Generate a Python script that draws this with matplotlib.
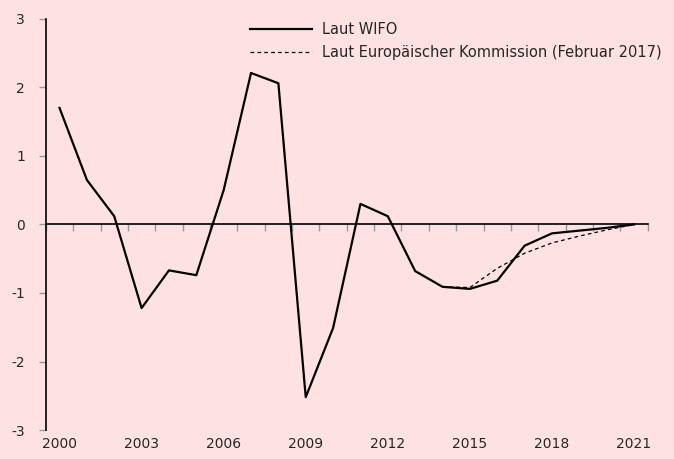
import matplotlib
matplotlib.use("Agg")
import matplotlib.pyplot as plt
import numpy as np

years = list(range(2000, 2022))
wifo = [1.70, 0.65, 0.12, -1.22, -0.67, -0.74, 0.50, 2.21, 2.06, -2.52, -1.51,
        0.30, 0.12, -0.68, -0.91, -0.94, -0.82, -0.31, -0.13, -0.09, -0.05, 0.0]
ek_years = list(range(2014, 2022))
ek = [-0.91, -0.92, -0.64, -0.42, -0.27, -0.17, -0.08, 0.0]
label_years = [2000, 2003, 2006, 2009, 2012, 2015, 2018, 2021]

bg = "#fee2e3"
txt = "#262626"
plt.rcParams['font.family'] = ['DejaVu Sans']
plt.rcParams['axes.unicode_minus'] = False

fig = plt.figure(figsize=(6.74, 4.59), dpi=100, facecolor=bg)
ax = fig.add_axes([0.068, 0.063, 0.893, 0.896], facecolor=bg)

x = np.arange(len(years))
x_ek = [years.index(y) for y in ek_years]
ax.plot(x, wifo, color="black", linewidth=1.6, label="Laut WIFO")
ax.plot(x_ek, ek, color="black", linewidth=0.9, dashes=(3.0, 2.5),
        label="Laut Europäischer Kommission (Februar 2017)")

ax.set_xlim(-0.5, len(years) - 0.5)
ax.set_ylim(-3, 3)
ax.set_yticks(range(-3, 4))
ax.tick_params(axis="y", direction="out", length=5, width=1, color="#999999",
               labelsize=10, labelcolor=txt, pad=10)

# category axis sits on the zero line, ticks between categories
ax.spines["bottom"].set_position(("data", 0))
ax.spines["top"].set_visible(False)
ax.spines["right"].set_visible(False)
ax.spines["left"].set_linewidth(1.2)
ax.spines["bottom"].set_linewidth(1.2)
ax.set_xticks(np.arange(-0.5, len(years), 1.0))
ax.set_xticklabels([])
ax.tick_params(axis="x", direction="out", length=5, width=1, color="#999999")

for yr in label_years:
    ax.text(years.index(yr), -0.018, str(yr), transform=ax.get_xaxis_transform(),
            ha="center", va="top", fontsize=10, color=txt)

leg = ax.legend(loc="upper left", bbox_to_anchor=(0.318, 1.025), frameon=False,
                handlelength=4.2, labelspacing=0.6, fontsize=10.5, handletextpad=0.7)
for t in leg.get_texts():
    t.set_color(txt)

fig.savefig("out.png", dpi=100, facecolor=bg)
